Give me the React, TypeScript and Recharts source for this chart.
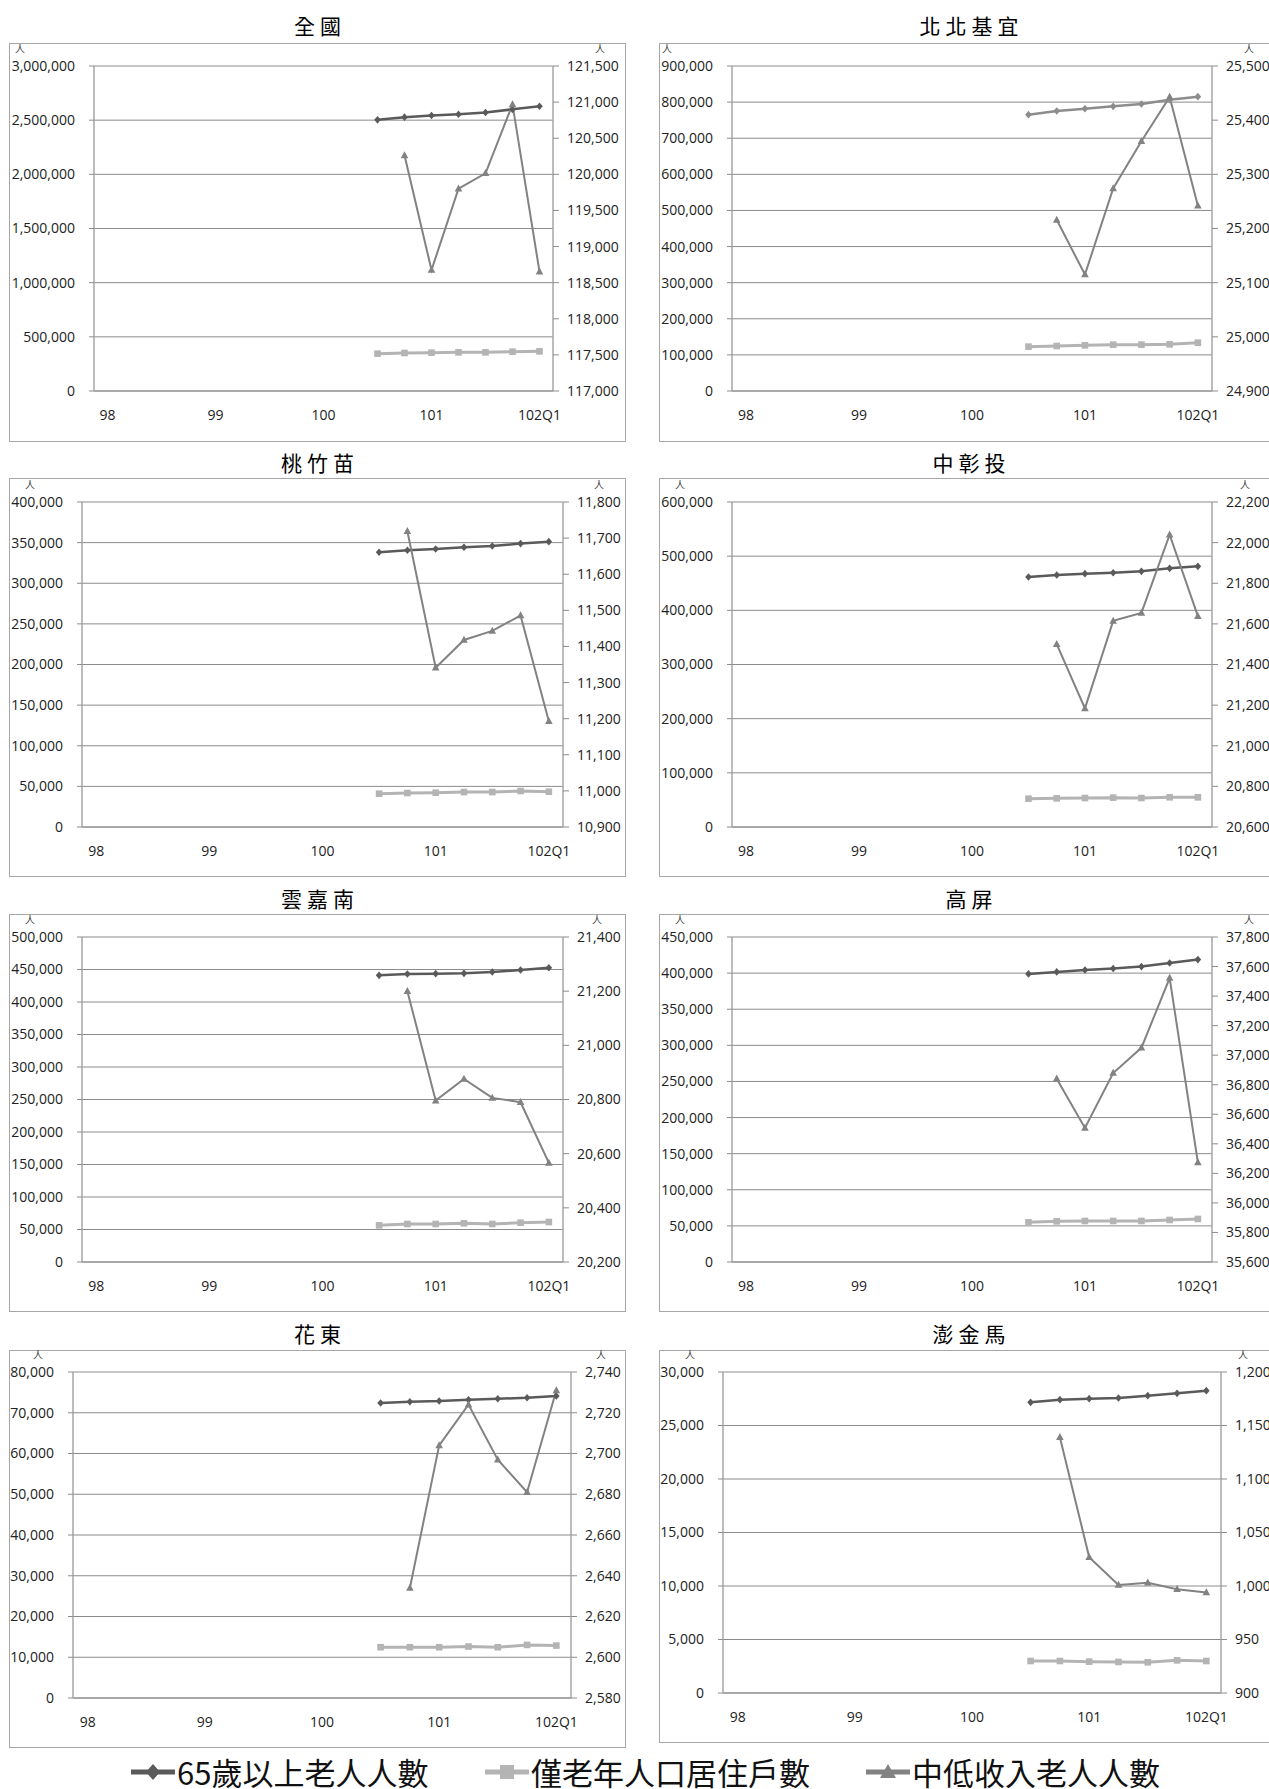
import React from "react";
import { CartesianGrid, Line, LineChart, XAxis, YAxis } from "recharts";

// quarters on the category axis; only every 4th label is shown
const categories = [
  "98", "98Q2", "98Q3", "98Q4",
  "99", "99Q2", "99Q3", "99Q4",
  "100", "100Q2", "100Q3", "100Q4",
  "101", "101Q2", "101Q3", "101Q4",
  "102Q1",
];
const firstIndex = 10; // 100Q3, first quarter with data

const seriesNames = ["65歲以上老人人數", "僅老年人口居住戶數", "中低收入老人人數"];

// 全國
const nationalElderly = [2503000, 2528000, 2543000, 2555000, 2571000, 2600000, 2628000];
const nationalHouseholds = [344600, 350800, 353800, 357000, 357000, 363000, 366000];
const nationalLowIncome = [null, 120263, 118675, 119801, 120014, 120968, 118652];
const nationalLeftTicks = [0, 500000, 1000000, 1500000, 2000000, 2500000, 3000000];
const nationalRightTicks = [117000, 117500, 118000, 118500, 119000, 119500, 120000, 120500, 121000, 121500];

// 北北基宜
const northElderly = [765300, 775400, 781900, 788300, 794800, 806800, 815100];
const northHouseholds = [122800, 124600, 126500, 128300, 128300, 129200, 133800];
const northLowIncome = [null, 25216, 25115, 25274, 25361, 25443, 25242];
const northLeftTicks = [0, 100000, 200000, 300000, 400000, 500000, 600000, 700000, 800000, 900000];
const northRightTicks = [24900, 25000, 25100, 25200, 25300, 25400, 25500];

// 桃竹苗
const tzmElderly = [338100, 340600, 342200, 344300, 345900, 348800, 351200];
const tzmHouseholds = [41000, 41800, 42200, 43000, 43000, 44300, 43400];
const tzmLowIncome = [null, 11719, 11341, 11418, 11443, 11486, 11193];
const tzmLeftTicks = [0, 50000, 100000, 150000, 200000, 250000, 300000, 350000, 400000];
const tzmRightTicks = [10900, 11000, 11100, 11200, 11300, 11400, 11500, 11600, 11700, 11800];

// 中彰投
const centralElderly = [461500, 465200, 467700, 469500, 472000, 477500, 481200];
const centralHouseholds = [52300, 52900, 53500, 54200, 53500, 54800, 54800];
const centralLowIncome = [null, 21500, 21184, 21615, 21654, 22039, 21638];
const centralLeftTicks = [0, 100000, 200000, 300000, 400000, 500000, 600000];
const centralRightTicks = [20600, 20800, 21000, 21200, 21400, 21600, 21800, 22000, 22200];

// 雲嘉南
const ycnElderly = [441000, 443100, 443600, 444100, 446200, 449200, 452800];
const ycnHouseholds = [56400, 58500, 58500, 59500, 58500, 60500, 61500];
const ycnLowIncome = [null, 21200, 20796, 20876, 20806, 20790, 20566];
const ycnLeftTicks = [0, 50000, 100000, 150000, 200000, 250000, 300000, 350000, 400000, 450000, 500000];
const ycnRightTicks = [20200, 20400, 20600, 20800, 21000, 21200, 21400];

// 高屏
const kpElderly = [398900, 401700, 404400, 406300, 409000, 414100, 418700];
const kpHouseholds = [54900, 56300, 56800, 56800, 56800, 58200, 59600];
const kpLowIncome = [null, 36841, 36507, 36879, 37050, 37522, 36274];
const kpLeftTicks = [0, 50000, 100000, 150000, 200000, 250000, 300000, 350000, 400000, 450000];
const kpRightTicks = [35600, 35800, 36000, 36200, 36400, 36600, 36800, 37000, 37200, 37400, 37600, 37800];

// 花東
const eastElderly = [72380, 72700, 72870, 73200, 73440, 73690, 74100];
const eastHouseholds = [12460, 12460, 12460, 12620, 12460, 13030, 12870];
const eastLowIncome = [null, 2634, 2704, 2724, 2697, 2681, 2731];
const eastLeftTicks = [0, 10000, 20000, 30000, 40000, 50000, 60000, 70000, 80000];
const eastRightTicks = [2580, 2600, 2620, 2640, 2660, 2680, 2700, 2720, 2740];

// 澎金馬
const islandElderly = [27165, 27414, 27508, 27570, 27788, 28006, 28255];
const islandHouseholds = [2990, 2990, 2930, 2900, 2870, 3050, 2990];
const islandLowIncome = [null, 1139, 1027, 1001, 1003, 997, 994];
const islandLeftTicks = [0, 5000, 10000, 15000, 20000, 25000, 30000];
const islandRightTicks = [900, 950, 1000, 1050, 1100, 1150, 1200];

type Region = {
  title: string;
  elderly: number[];
  households: number[];
  lowIncome: (number | null)[];
  leftTicks: number[];
  rightTicks: number[];
};

const regions: Region[] = [
  { title: "全國", elderly: nationalElderly, households: nationalHouseholds, lowIncome: nationalLowIncome, leftTicks: nationalLeftTicks, rightTicks: nationalRightTicks },
  { title: "北北基宜", elderly: northElderly, households: northHouseholds, lowIncome: northLowIncome, leftTicks: northLeftTicks, rightTicks: northRightTicks },
  { title: "桃竹苗", elderly: tzmElderly, households: tzmHouseholds, lowIncome: tzmLowIncome, leftTicks: tzmLeftTicks, rightTicks: tzmRightTicks },
  { title: "中彰投", elderly: centralElderly, households: centralHouseholds, lowIncome: centralLowIncome, leftTicks: centralLeftTicks, rightTicks: centralRightTicks },
  { title: "雲嘉南", elderly: ycnElderly, households: ycnHouseholds, lowIncome: ycnLowIncome, leftTicks: ycnLeftTicks, rightTicks: ycnRightTicks },
  { title: "高屏", elderly: kpElderly, households: kpHouseholds, lowIncome: kpLowIncome, leftTicks: kpLeftTicks, rightTicks: kpRightTicks },
  { title: "花東", elderly: eastElderly, households: eastHouseholds, lowIncome: eastLowIncome, leftTicks: eastLeftTicks, rightTicks: eastRightTicks },
  { title: "澎金馬", elderly: islandElderly, households: islandHouseholds, lowIncome: islandLowIncome, leftTicks: islandLeftTicks, rightTicks: islandRightTicks },
];

// page geometry for each panel (absolute px)
type Layout = {
  x: number; y: number; w: number; h: number;
  plotLeft: number; plotRight: number; plotTop: number; plotBottom: number;
  titleY: number; unitL: number; unitR: number; elderlyColor?: string;
};

const layouts: Layout[] = [
  { x: 9, y: 43, w: 617, h: 399, plotLeft: 94, plotRight: 553, plotTop: 66, plotBottom: 391, titleY: 25, unitL: 20, unitR: 600 },
  { x: 659, y: 43, w: 620, h: 399, plotLeft: 732, plotRight: 1212, plotTop: 66, plotBottom: 391, titleY: 25, unitL: 667, unitR: 1249, elderlyColor: "#8c8c8c" },
  { x: 9, y: 478, w: 617, h: 399, plotLeft: 82, plotRight: 563, plotTop: 502, plotBottom: 827, titleY: 462, unitL: 30, unitR: 599 },
  { x: 659, y: 478, w: 620, h: 399, plotLeft: 732, plotRight: 1212, plotTop: 502, plotBottom: 827, titleY: 462, unitL: 680, unitR: 1245 },
  { x: 9, y: 914, w: 617, h: 398, plotLeft: 82, plotRight: 563, plotTop: 937, plotBottom: 1262, titleY: 898, unitL: 30, unitR: 597 },
  { x: 659, y: 914, w: 620, h: 398, plotLeft: 732, plotRight: 1212, plotTop: 937, plotBottom: 1262, titleY: 898, unitL: 680, unitR: 1249 },
  { x: 9, y: 1350, w: 617, h: 398, plotLeft: 73, plotRight: 571, plotTop: 1372, plotBottom: 1698, titleY: 1333, unitL: 38, unitR: 601 },
  { x: 659, y: 1350, w: 620, h: 393, plotLeft: 723, plotRight: 1221, plotTop: 1372, plotBottom: 1693, titleY: 1333, unitL: 690, unitR: 1243 },
];

const darkGray = "#5a5a5a";
const lightGray = "#b4b4b4";
const midGray = "#828282";
const gridColor = "#8c8c8c";
const axisColor = "#a6a6a6";
const numFont = "'Open Sans', 'Noto Sans', sans-serif";
const cjkFont = "'Noto Sans CJK TC', 'Noto Sans CJK SC', sans-serif";

function buildRows(r: Region) {
  return categories.map((cat, i) => {
    const k = i - firstIndex;
    return {
      cat,
      elderly: k >= 0 ? r.elderly[k] : null,
      households: k >= 0 ? r.households[k] : null,
      lowIncome: k >= 0 ? r.lowIncome[k] : null,
    };
  });
}

const fmt = (v: number) => Number(v).toLocaleString("en-US");

const diamondDot = (color: string) => (props: any) => {
  const { cx, cy, index } = props;
  if (cx == null || cy == null) return <g key={`d${index}`} />;
  return (
    <path
      key={`d${index}`}
      d={`M${cx},${cy - 3.8}L${cx + 3.3},${cy}L${cx},${cy + 3.8}L${cx - 3.3},${cy}Z`}
      fill={color}
    />
  );
};

const squareDot = (props: any) => {
  const { cx, cy, index } = props;
  if (cx == null || cy == null) return <g key={`s${index}`} />;
  return <rect key={`s${index}`} x={cx - 3.3} y={cy - 3.3} width={6.6} height={6.6} fill={lightGray} />;
};

const triangleDot = (props: any) => {
  const { cx, cy, index } = props;
  if (cx == null || cy == null) return <g key={`t${index}`} />;
  return (
    <path key={`t${index}`} d={`M${cx},${cy - 4.2}L${cx + 3.8},${cy + 2.8}L${cx - 3.8},${cy + 2.8}Z`} fill={midGray} />
  );
};

function RegionChart({ region, layout }: { region: Region; layout: Layout }) {
  const rows = buildRows(region);
  const plotW = layout.plotRight - layout.plotLeft;
  const pad = plotW / 34;
  const elderlyColor = layout.elderlyColor ?? darkGray;
  const leftMax = region.leftTicks[region.leftTicks.length - 1];
  const rMin = region.rightTicks[0];
  const rMax = region.rightTicks[region.rightTicks.length - 1];
  const unitStyle: React.CSSProperties = {
    position: "absolute",
    top: layout.plotTop - 23,
    fontFamily: cjkFont,
    fontSize: 10,
    lineHeight: "12px",
    color: "#404040",
  };

  return (
    <>
      <div
        style={{
          position: "absolute",
          left: layout.x,
          top: layout.titleY - 15,
          width: layout.w,
          lineHeight: "30px",
          textAlign: "center",
          fontFamily: cjkFont,
          fontSize: 21,
          letterSpacing: 5,
          paddingLeft: 5,
          boxSizing: "border-box",
          color: "#000",
        }}
      >
        {region.title}
      </div>
      <div
        style={{
          position: "absolute",
          left: layout.x,
          top: layout.y,
          width: layout.w,
          height: layout.h,
          border: `1.5px solid ${axisColor}`,
          boxSizing: "border-box",
        }}
      />
      <div style={{ ...unitStyle, left: layout.unitL - 5 }}>人</div>
      <div style={{ ...unitStyle, left: layout.unitR - 5 }}>人</div>
      <div style={{ position: "absolute", left: layout.x, top: layout.y }}>
        <LineChart
          width={layout.w}
          height={layout.h}
          data={rows}
          margin={{ top: layout.plotTop - layout.y, right: 0, bottom: 0, left: 0 }}
        >
          <CartesianGrid yAxisId="left" vertical={false} stroke={gridColor} strokeWidth={1} />
          <XAxis
            dataKey="cat"
            interval={3}
            tickLine={false}
            tickSize={0}
            tickMargin={19}
            height={layout.y + layout.h - layout.plotBottom}
            padding={{ left: pad, right: pad }}
            axisLine={{ stroke: gridColor }}
            tick={{ fill: "#222", fontSize: 14, fontFamily: numFont }}
          />
          <YAxis
            yAxisId="left"
            orientation="left"
            width={layout.plotLeft - layout.x}
            domain={[0, leftMax]}
            ticks={region.leftTicks}
            interval={0}
            tickFormatter={fmt}
            tickSize={5}
            tickMargin={14}
            axisLine={{ stroke: axisColor, strokeWidth: 1.5 }}
            tickLine={{ stroke: gridColor }}
            tick={{ fill: "#222", fontSize: 14, fontFamily: numFont }}
          />
          <YAxis
            yAxisId="right"
            orientation="right"
            width={layout.x + layout.w - layout.plotRight}
            domain={[rMin, rMax]}
            ticks={region.rightTicks}
            interval={0}
            tickFormatter={fmt}
            tickSize={6}
            tickMargin={8}
            axisLine={{ stroke: axisColor, strokeWidth: 1.5 }}
            tickLine={{ stroke: gridColor }}
            tick={{ fill: "#222", fontSize: 14, fontFamily: numFont, textAnchor: "start" }}
          />
          <Line
            yAxisId="left"
            dataKey="households"
            name={seriesNames[1]}
            stroke={lightGray}
            strokeWidth={3}
            dot={squareDot}
            activeDot={false}
            isAnimationActive={false}
          />
          <Line
            yAxisId="left"
            dataKey="elderly"
            name={seriesNames[0]}
            stroke={elderlyColor}
            strokeWidth={2.5}
            dot={diamondDot(elderlyColor)}
            activeDot={false}
            isAnimationActive={false}
          />
          <Line
            yAxisId="right"
            dataKey="lowIncome"
            name={seriesNames[2]}
            stroke={midGray}
            strokeWidth={2}
            dot={triangleDot}
            activeDot={false}
            isAnimationActive={false}
          />
        </LineChart>
      </div>
    </>
  );
}

function LegendMarker({ kind, color }: { kind: "diamond" | "square" | "triangle"; color: string }) {
  return (
    <svg width={44} height={30} style={{ display: "block" }}>
      <line x1={0} y1={15} x2={44} y2={15} stroke={color} strokeWidth={5} />
      {kind === "diamond" && <path d="M22,7L29,15L22,23L15,15Z" fill={color} />}
      {kind === "square" && <rect x={15} y={8} width={14} height={14} fill={color} />}
      {kind === "triangle" && <path d="M22,7L30,21L14,21Z" fill={color} />}
    </svg>
  );
}

const legendItems = [
  { left: 131, kind: "diamond" as const, color: darkGray, label: seriesNames[0] },
  { left: 485, kind: "square" as const, color: lightGray, label: seriesNames[1] },
  { left: 866, kind: "triangle" as const, color: midGray, label: seriesNames[2] },
];

export default function App() {
  return (
    <div
      style={{
        position: "absolute",
        left: 0,
        top: 0,
        width: 1269,
        height: 1789,
        overflow: "hidden",
        background: "#fff",
      }}
    >
      {regions.map((r, i) => (
        <RegionChart key={r.title} region={r} layout={layouts[i]} />
      ))}
      {legendItems.map((it) => (
        <div
          key={it.label}
          style={{
            position: "absolute",
            left: it.left,
            top: 1772 - 22,
            height: 44,
            display: "flex",
            alignItems: "center",
            gap: 2,
          }}
        >
          <LegendMarker kind={it.kind} color={it.color} />
          <span style={{ fontFamily: cjkFont, fontSize: 31, lineHeight: "44px", color: "#111", whiteSpace: "nowrap" }}>
            {it.label}
          </span>
        </div>
      ))}
    </div>
  );
}
